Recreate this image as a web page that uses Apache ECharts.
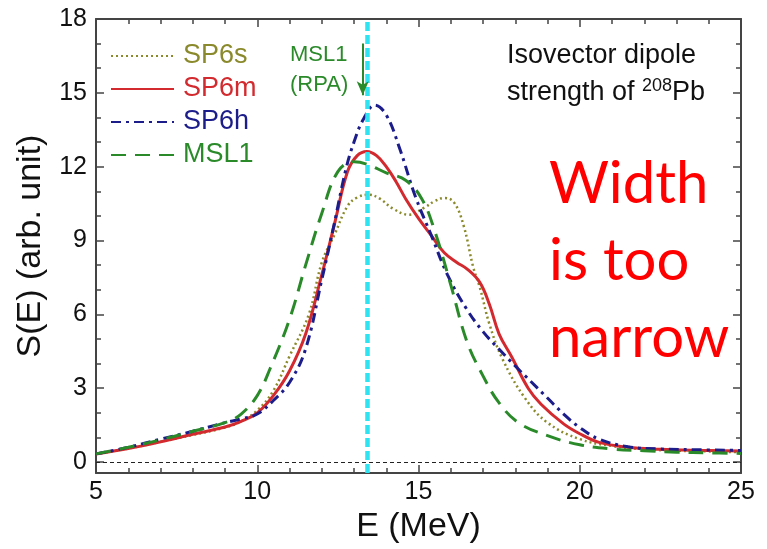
<!DOCTYPE html>
<html><head><meta charset="utf-8">
<script src="https://cdn.jsdelivr.net/npm/echarts@6/dist/echarts.min.js"></script>
<style>html,body{margin:0;padding:0;background:#fff}#c{width:767px;height:549px}</style>
</head><body><div id="c"></div>
<script>
// ---- data ----
const xTicks = [5, 10, 15, 20, 25];
const yTicks = [0, 3, 6, 9, 12, 15, 18];
const yMinorTicks = [1, 2, 4, 5, 7, 8, 10, 11, 13, 14, 16, 17];

const eSP6s = [5,6,7,8,9,9.5,10,10.5,11,11.6,12.0,12.4,12.8,13.1,13.45,13.8,14.2,14.7,15.2,15.5,15.8,16.1,16.4,16.7,16.9,17.2,17.6,18.3,19,20,21,22,23,24,25];
const sSP6s = [0.33,0.55,0.82,1.1,1.4,1.65,2.1,2.9,4.3,6.0,8.1,9.25,10.4,10.75,10.86,10.7,10.3,10.05,10.35,10.6,10.73,10.55,9.6,7.9,7.1,5.6,4.2,2.6,1.6,0.93,0.65,0.52,0.46,0.43,0.4];

const eSP6m = [5,6,7,8,9,9.5,10,10.5,11,11.5,12,12.4,12.8,13.1,13.4,13.7,14,14.3,14.6,15,15.4,15.8,16.2,16.5,16.9,17.2,17.5,17.9,18.4,18.8,19.5,20,20.6,21.5,22.5,23.5,25];
const sSP6m = [0.33,0.55,0.82,1.13,1.42,1.65,2.0,2.7,3.7,5.2,7.6,9.7,11.8,12.45,12.62,12.45,12.0,11.4,10.7,9.9,9.2,8.5,8.1,7.85,7.3,6.4,5.2,4.25,3.0,2.35,1.55,1.15,0.8,0.6,0.52,0.48,0.45];

const eSP6h = [5,6,7,8,9,9.5,10,10.5,11,11.5,12,12.35,12.75,13.0,13.3,13.65,14.0,14.4,14.9,15.4,15.9,16.5,17,17.5,18,18.5,19,19.5,20,20.6,21.5,22.5,23.5,25];
const sSP6h = [0.33,0.6,0.93,1.25,1.6,1.75,1.95,2.5,3.23,4.6,7.4,9.45,11.9,13.0,13.95,14.5,14.1,12.8,10.8,9.2,7.6,6.2,5.3,4.58,3.9,3.25,2.6,1.95,1.4,0.93,0.62,0.53,0.5,0.47];

const eMSL1 = [5,6,7,8,9,9.5,10,10.4,11,11.5,12,12.5,13,13.4,14,14.6,15.1,15.5,16,16.5,17,17.5,18.1,19,20,21,22,23,24,25];
const sMSL1 = [0.33,0.6,0.9,1.25,1.6,1.95,2.7,3.8,5.8,8.0,10.1,11.8,12.2,12.1,11.75,11.45,10.7,9.4,7.2,4.9,3.5,2.4,1.6,1.07,0.7,0.53,0.46,0.4,0.37,0.35];

const rpaEnergy = 13.4;          // cyan dashed line
const arrowE = 13.27;            // MSL1 (RPA) arrow
const arrowFrom = 17.0, arrowTo = 14.9;

const C = { s: '#8a8a2c', m: '#d22a2e', h: '#1c1c8a', g: '#2a8a2a', cyan: '#2fe4f0', axis: '#444' };
const FONT = 'Liberation Sans, Arial, sans-serif';

const zip = (a, b) => a.map((v, i) => [v, b[i]]);

const axisLine = { show: true, onZero: false, lineStyle: { color: C.axis, width: 2 } };

const chart = echarts.init(document.getElementById('c'));
chart.setOption({
  animation: false,
  backgroundColor: '#fff',
  grid: { left: 96, right: 26, top: 19, bottom: 75, containLabel: false },
  legend: {
    orient: 'vertical', left: 105, top: 37, itemWidth: 63, itemHeight: 14, itemGap: 5,
    itemStyle: { opacity: 0 },
    textStyle: { fontSize: 27, fontFamily: FONT, lineHeight: 28, padding: [0, 0, 0, 4] },
    data: [
      { name: 'SP6s', textStyle: { color: C.s } },
      { name: 'SP6m', textStyle: { color: C.m } },
      { name: 'SP6h', textStyle: { color: C.h } },
      { name: 'MSL1', textStyle: { color: C.g } }
    ]
  },
  xAxis: [
    { type: 'value', min: 5, max: 25, interval: 5, position: 'bottom',
      axisLine, splitLine: { show: false },
      axisTick: { inside: true, length: 8, lineStyle: { color: C.axis, width: 1.5 } },
      minorTick: { show: true, splitNumber: 5, length: 5, lineStyle: { color: C.axis, width: 1.5 } },
      axisLabel: { fontSize: 25, color: '#111', fontFamily: FONT, margin: 7 },
      name: 'E (MeV)', nameLocation: 'middle', nameGap: 33,
      nameTextStyle: { fontSize: 34, color: '#111', fontFamily: FONT } },
    { type: 'value', min: 5, max: 25, interval: 5, position: 'top',
      axisLine, splitLine: { show: false }, axisLabel: { show: false },
      axisTick: { inside: true, length: 8, lineStyle: { color: C.axis, width: 1.5 } },
      minorTick: { show: true, splitNumber: 5, length: 5, lineStyle: { color: C.axis, width: 1.5 } } }
  ],
  yAxis: [
    { type: 'value', min: -0.45, max: 18, position: 'left',
      axisLine, splitLine: { show: false },
      axisTick: { inside: true, length: 8, customValues: yTicks, lineStyle: { color: C.axis, width: 1.5 } },
      axisLabel: { customValues: yTicks, fontSize: 25, color: '#111', fontFamily: FONT, margin: 9 },
      name: 'S(E) (arb. unit)', nameLocation: 'middle', nameGap: 48,
      nameTextStyle: { fontSize: 34, color: '#111', fontFamily: FONT } },
    { type: 'value', min: -0.45, max: 18, position: 'left',
      axisLine: { show: false }, splitLine: { show: false }, axisLabel: { show: false },
      axisTick: { inside: true, length: 5, customValues: yMinorTicks, lineStyle: { color: C.axis, width: 1.5 } } },
    { type: 'value', min: -0.45, max: 18, position: 'right',
      axisLine, splitLine: { show: false }, axisLabel: { show: false },
      axisTick: { inside: true, length: 8, customValues: yTicks, lineStyle: { color: C.axis, width: 1.5 } } },
    { type: 'value', min: -0.45, max: 18, position: 'right',
      axisLine: { show: false }, splitLine: { show: false }, axisLabel: { show: false },
      axisTick: { inside: true, length: 5, customValues: yMinorTicks, lineStyle: { color: C.axis, width: 1.5 } } }
  ],
  series: [
    { name: 'SP6s', type: 'line', symbol: 'none', smooth: 0.4, data: zip(eSP6s, sSP6s),
      lineStyle: { color: C.s, width: 2.5, type: [2, 3] }, itemStyle: { color: C.s },
      markLine: { silent: true, symbol: 'none', label: { show: false },
        lineStyle: { color: '#222', width: 1, type: [4, 3] }, data: [{ yAxis: 0 }] } },
    { name: 'SP6m', type: 'line', symbol: 'none', smooth: 0.4, data: zip(eSP6m, sSP6m),
      lineStyle: { color: C.m, width: 3, type: 'solid' }, itemStyle: { color: C.m } },
    { name: 'SP6h', type: 'line', symbol: 'none', smooth: 0.4, data: zip(eSP6h, sSP6h),
      lineStyle: { color: C.h, width: 3, type: [10, 5, 3, 5] }, itemStyle: { color: C.h } },
    { name: 'MSL1', type: 'line', symbol: 'none', smooth: 0.4, data: zip(eMSL1, sMSL1),
      lineStyle: { color: C.g, width: 3, type: [15, 9] }, itemStyle: { color: C.g } },
    { name: 'marks', type: 'line', data: [], z: 10,
      markLine: { silent: true, animation: false, label: { show: false },
        data: [
          [{ coord: [rpaEnergy, -0.45], symbol: 'none', lineStyle: { color: C.cyan, width: 4.5, type: [9, 4] } },
           { coord: [rpaEnergy, 18], symbol: 'none' }],
          [{ coord: [arrowE, arrowFrom], symbol: 'none', lineStyle: { color: C.g, width: 2, type: 'solid' } },
           { coord: [arrowE, arrowTo], symbol: 'arrow', symbolSize: [9, 14] }]
        ] } }
  ],
  graphic: [
    { type: 'text', left: 290, top: 40, z: 20,
      style: { text: 'MSL1\n(RPA)', font: '22px ' + FONT, fill: C.g, lineHeight: 30 } },
    { type: 'text', left: 507, top: 37, z: 20,
      style: { text: 'Isovector dipole\nstrength of {sup|208}Pb', font: '27px ' + FONT, fill: '#111', lineHeight: 37,
        rich: { sup: { fontSize: 18, fontFamily: FONT, fill: '#111', padding: [0, 0, 12, 0] } } } },
    { type: 'text', left: 549, top: 146, z: 20,
      style: { text: 'Width\nis too\nnarrow', font: '58px Lato, "Noto Sans", sans-serif', fill: '#ff0000', lineHeight: 77 } }
  ]
});
</script>
</body></html>
